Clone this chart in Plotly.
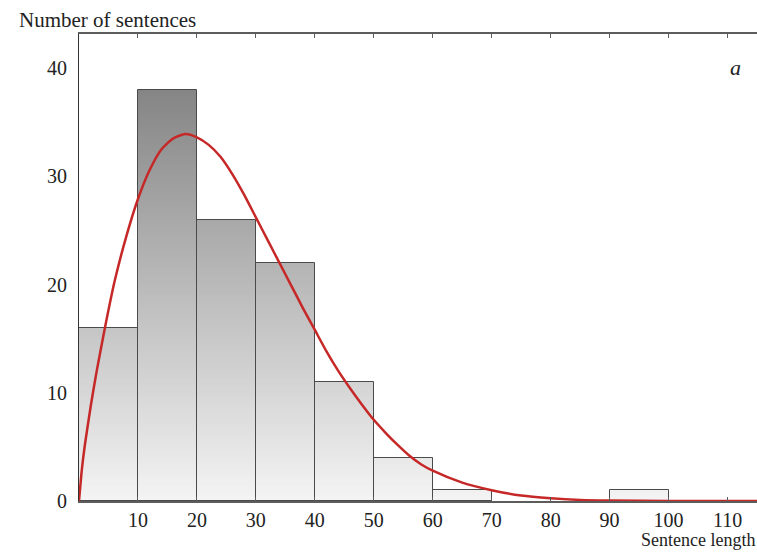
import plotly.graph_objects as go

# ---- data ----
bin_left = [0, 10, 20, 30, 40, 50, 60, 70, 80, 90, 100, 110]
bin_counts = [16, 38, 26, 22, 11, 4, 1, 0, 0, 1, 0, 0]
bin_width = 10

curve_x = [0, 0.5, 1, 2, 3, 4.4, 6, 8, 10, 12, 14, 16, 18, 20, 22, 24, 26, 28, 30,
           32, 34, 36, 38, 40, 42, 44, 46, 48, 50, 52, 54, 56, 58, 60, 65, 70, 75,
           80, 85, 90, 100, 115]
curve_y = [0, 3.0, 5.2, 8.8, 12.0, 16.0, 20.2, 24.4, 27.9, 30.6, 32.5, 33.5, 33.9,
           33.6, 32.9, 31.8, 30.2, 28.3, 26.2, 24.1, 22.0, 19.9, 17.8, 15.8, 13.8,
           12.0, 10.4, 8.9, 7.5, 6.3, 5.2, 4.2, 3.4, 2.8, 1.7, 1.0, 0.5, 0.25, 0.1,
           0.04, 0, 0]

x_ticks = [10, 20, 30, 40, 50, 60, 70, 80, 90, 100, 110]
y_ticks = [0, 10, 20, 30, 40]
y_minor_ticks = [0, 5, 10, 15, 20, 25, 30, 35, 40]

x_title = "Sentence length"
y_title = "Number of sentences"
panel_label = "a"

X_RANGE = [0, 115]
Y_RANGE = [0, 43.14]
FONT = "Liberation Serif, Times New Roman, serif"

# ---- gradient fill built from thin slices of each bar ----
step = 0.25
seg_x, seg_base, seg_h, seg_c = [], [], [], []
for left, cnt in zip(bin_left, bin_counts):
    b = 0.0
    while b < cnt - 1e-9:
        h = min(step, cnt - b)
        seg_x.append(left + bin_width / 2)
        seg_base.append(b)
        seg_h.append(h)
        seg_c.append(b + h / 2)
        b += h

fig = go.Figure()
fig.add_trace(go.Bar(
    x=seg_x, y=seg_h, base=seg_base, width=bin_width,
    marker=dict(color=seg_c, colorscale=[[0, "#f4f4f4"], [1, "#858585"]],
                cmin=0, cmax=38, line=dict(width=0)),
    hoverinfo="skip", showlegend=False,
))

# outlines
ox = [l + bin_width / 2 for l, c in zip(bin_left, bin_counts) if c > 0]
oy = [c for c in bin_counts if c > 0]
fig.add_trace(go.Bar(
    x=ox, y=oy, width=bin_width,
    marker=dict(color="rgba(0,0,0,0)", line=dict(color="#4a4a4a", width=1)),
    hoverinfo="skip", showlegend=False,
))

fig.add_trace(go.Scatter(
    x=curve_x, y=curve_y, mode="lines",
    line=dict(color="#c62828", width=2.5, shape="spline", smoothing=0.6),
    hoverinfo="skip", showlegend=False,
))

fig.update_layout(
    width=757, height=552,
    margin=dict(l=79, r=0, t=34, b=51, autoexpand=False),
    paper_bgcolor="white", plot_bgcolor="white",
    barmode="overlay", bargap=0,
    font=dict(family=FONT, size=20, color="#222222"),
    xaxis=dict(range=X_RANGE, tickvals=x_ticks, showgrid=False, zeroline=False,
               automargin=False,
               showline=True, linecolor="#5c5c5c", linewidth=2, mirror="ticks",
               ticks="inside", ticklen=4, tickcolor="#5c5c5c", tickwidth=1,
               tickfont=dict(family=FONT, size=20, color="#222")),
    yaxis=dict(range=Y_RANGE, tickvals=y_ticks, showgrid=False, zeroline=False,
               automargin=False,
               showline=True, linecolor="#333333", linewidth=1, ticks="",
               ticklabelstandoff=7,
               tickfont=dict(family=FONT, size=20, color="#222")),
    yaxis2=dict(range=Y_RANGE, overlaying="y", side="right", tickvals=y_minor_ticks,
                automargin=False,
                showticklabels=False, showgrid=False, zeroline=False, showline=False,
                ticks="inside", ticklen=5, tickcolor="#444", tickwidth=1),
    annotations=[
        dict(text=y_title, xref="paper", yref="paper", x=-0.0918, y=1.0,
             xanchor="left", yanchor="bottom", showarrow=False,
             font=dict(family=FONT, size=21, color="#222")),
        dict(text=x_title, xref="paper", yref="paper", x=1.0, y=-0.084,
             xanchor="right", yanchor="middle", showarrow=False,
             font=dict(family=FONT, size=18, color="#222")),
        dict(text="<i>" + panel_label + "</i>", xref="x", yref="y", x=111.3, y=40,
             xanchor="center", yanchor="middle", showarrow=False,
             font=dict(family=FONT, size=22, color="#222")),
    ],
)

fig.write_html(
    "out.html",
    config={"displayModeBar": False},
    post_script="document.body.style.margin='0';document.body.style.padding='0';"
                "document.body.style.overflow='hidden';",
)
